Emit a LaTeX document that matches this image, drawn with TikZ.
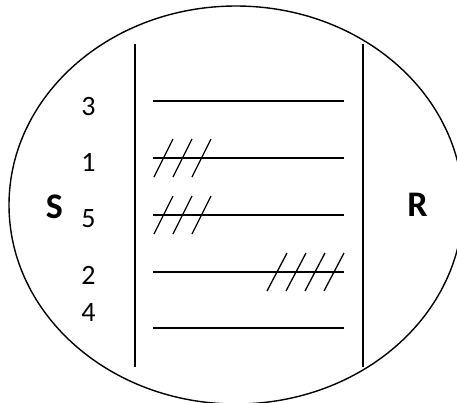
\documentclass[tikz,border=0pt]{standalone}
\usepackage{fontspec}
\setmainfont{Carlito}
\usetikzlibrary{shapes.geometric}
\begin{document}
\begin{tikzpicture}[x=1pt,y=-1pt,line width=1.4pt,
  num/.style={font=\fontsize{28}{32}\selectfont,inner sep=0pt},
  big/.style={font=\fontsize{36}{40}\selectfont\bfseries,inner sep=0pt},
  bar/.style={line width=1.4pt},
  hatch/.style={line width=1.3pt}]
\useasboundingbox (0,0) rectangle (457,402);
\clip (0,0) rectangle (457,402);
\node[draw,ellipse,minimum width=454pt,minimum height=398pt,line width=1.4pt] (oval) at (236,205) {};
\coordinate (lt) at (135,44); \coordinate (lb) at (135,367);
\coordinate (rt) at (363,44); \coordinate (rb) at (363,367);
\draw[bar] (lt) -- (lb);
\draw[bar] (rt) -- (rb);
\foreach \n/\y in {a/101,b/158,c/215,d/272,e/328}{
  \coordinate (\n1) at (153,\y); \coordinate (\n2) at (344,\y);
  \draw (\n1) -- (\n2);
}
\node[num] (n3) at (88.5,107) {3};
\node[num] (n1) at (88.5,162) {1};
\node[num] (n5) at (88.5,219) {5};
\node[num] (n2) at (88.5,275) {2};
\node[num] (n4) at (88.5,313) {4};
\node[big] (S) at (54.5,207) {S};
\node[big] (R) at (417.5,205) {R};
\foreach \dx in {0,19,38}{
  \draw[hatch] (154+\dx,177) -- (173+\dx,139);
  \draw[hatch] (154+\dx,234) -- (173+\dx,196);
}
\foreach \dx in {0,19,38,57}{
  \draw[hatch] (267+\dx,291) -- (287+\dx,253);
}
\end{tikzpicture}
\end{document}
